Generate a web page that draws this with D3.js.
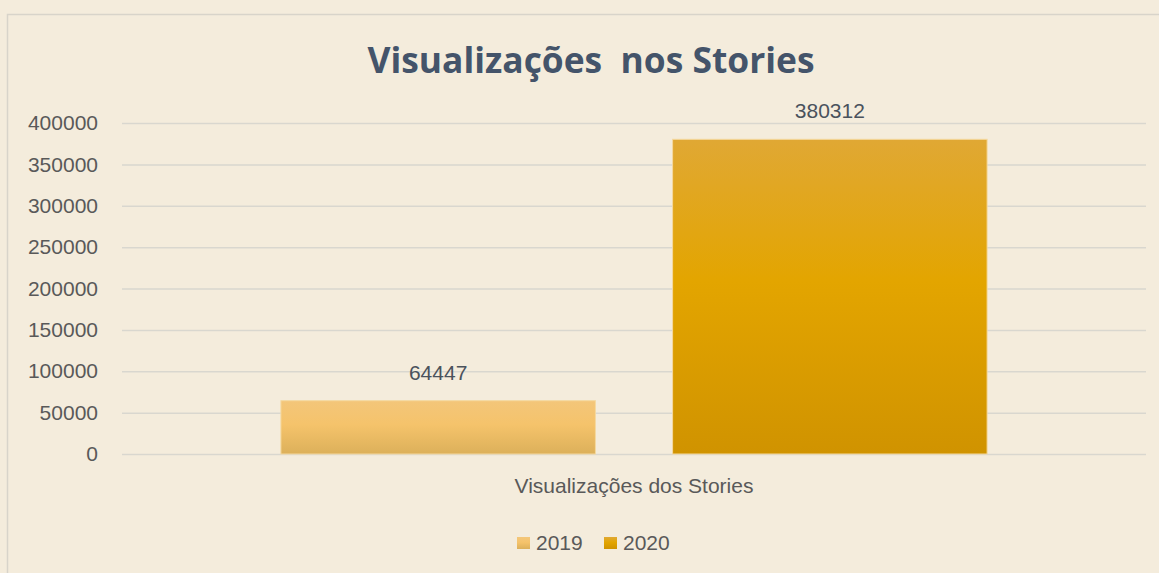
<!DOCTYPE html>
<html>
<head>
<meta charset="utf-8">
<script src="https://cdn.jsdelivr.net/npm/d3@7"></script>
<style>
  html, body { margin: 0; padding: 0; background: #f4ecdc; }
  svg { display: block; }
</style>
</head>
<body>
<svg id="chart"></svg>
<script>
'use strict';

// chart data
const categories = ['Visualizações dos Stories'];
const years = ['2019', '2020'];
const values2019 = [64447];
const values2020 = [380312];
const yTicks = [0, 50000, 100000, 150000, 200000, 250000, 300000, 350000, 400000];

(function() {
  window.addEventListener('load', init);

  /**
  * Build the chart once the window is loaded.
  */
  function init() {
    const width = 1159;
    const height = 573;
    const plot = ({left: 122, right: 1146, top: 123, bottom: 454});
    const font = '"Liberation Sans", Arial, sans-serif';
    const fontSize = 21;

    const svg = d3.select('#chart')
                  .attr('width', width)
                  .attr('height', height);

    // gradients for the two series
    const defs = svg.append('defs');
    const stops = {
      '2019': [['0%', '#f3c67a'], ['45%', '#f5c36b'], ['100%', '#dcb05a']],
      '2020': [['0%', '#e0a834'], ['45%', '#e3a500'], ['100%', '#d09300']]
    };
    years.forEach(yr => {
      const g = defs.append('linearGradient')
                    .attr('id', 'grad' + yr)
                    .attr('x1', 0).attr('y1', 0)
                    .attr('x2', 0).attr('y2', 1);
      stops[yr].forEach(s => g.append('stop').attr('offset', s[0]).attr('stop-color', s[1]));
    });

    // chart frame
    svg.append('rect')
       .attr('x', 7.5).attr('y', 14.5)
       .attr('width', width + 20).attr('height', height + 20)
       .attr('fill', '#f4ecdc')
       .attr('stroke', '#d8d4ca')
       .attr('stroke-width', 1.5);

    const rows = categories.map((c, i) => ({cat: c, '2019': values2019[i], '2020': values2020[i]}));

    const yScale = d3.scaleLinear()
                     .domain([0, 400000])
                     .range([plot.bottom, plot.top]);

    const xScale = d3.scaleBand()
                     .domain(categories)
                     .range([plot.left, plot.right])
                     .paddingInner(0)
                     .paddingOuter(0.225);

    const xInner = d3.scaleBand()
                     .domain(years)
                     .range([0, xScale.bandwidth()])
                     .paddingInner(0.197);

    // gridlines
    svg.append('g')
       .attr('transform', `translate(${plot.left}, 0)`)
       .call(d3.axisLeft(yScale).tickValues(yTicks).tickSize(-(plot.right - plot.left)).tickFormat(''))
       .call(g => g.select('.domain').remove())
       .call(g => g.selectAll('line').attr('stroke', '#d9d7cf').attr('stroke-width', 1.5));

    // y axis labels
    svg.append('g')
       .attr('transform', `translate(${plot.left}, 0)`)
       .call(d3.axisLeft(yScale).tickValues(yTicks).tickSize(0).tickPadding(24).tickFormat(d3.format('d')))
       .call(g => g.select('.domain').remove())
       .call(g => g.selectAll('text')
                   .attr('fill', '#595959')
                   .attr('font-family', font)
                   .attr('font-size', fontSize));

    // bars
    const groups = svg.append('g')
                      .selectAll('g')
                      .data(rows)
                      .enter()
                      .append('g')
                      .attr('transform', d => `translate(${xScale(d.cat)}, 0)`);

    groups.selectAll('rect')
          .data(d => years.map(yr => ({year: yr, value: d[yr]})))
          .enter()
          .append('rect')
          .attr('x', d => xInner(d.year))
          .attr('y', d => yScale(d.value))
          .attr('width', xInner.bandwidth())
          .attr('height', d => yScale(0) - yScale(d.value))
          .attr('fill', d => `url(#grad${d.year})`)
          .attr('stroke', '#f5d9a0')
          .attr('stroke-width', 1);

    // data labels
    groups.selectAll('text')
          .data(d => years.map(yr => ({year: yr, value: d[yr]})))
          .enter()
          .append('text')
          .attr('x', d => xInner(d.year) + xInner.bandwidth() / 2)
          .attr('y', d => yScale(d.value) - 21)
          .attr('text-anchor', 'middle')
          .attr('fill', '#4a525c')
          .attr('font-family', font)
          .attr('font-size', fontSize)
          .text(d => d.value);

    // category label
    svg.append('g')
       .attr('transform', `translate(0, ${plot.bottom})`)
       .call(d3.axisBottom(xScale).tickSize(0).tickPadding(0))
       .call(g => g.select('.domain').remove())
       .call(g => g.selectAll('text')
                   .attr('dy', null)
                   .attr('y', 39)
                   .attr('fill', '#595959')
                   .attr('font-family', font)
                   .attr('font-size', fontSize));

    // title
    svg.append('text')
       .attr('x', 591)
       .attr('y', 73)
       .attr('text-anchor', 'middle')
       .attr('fill', '#44546a')
       .attr('font-family', '"Open Sans", sans-serif')
       .attr('font-weight', 'bold')
       .attr('font-size', 35)
       .attr('textLength', 447)
       .attr('lengthAdjust', 'spacingAndGlyphs')
       .style('white-space', 'pre')
       .text('Visualizações  nos Stories');

    // legend
    const legendX = [517, 604];
    const legend = svg.append('g')
                      .selectAll('g')
                      .data(years)
                      .enter()
                      .append('g')
                      .attr('transform', (d, i) => `translate(${legendX[i]}, 537)`);

    legend.append('rect')
          .attr('width', 13)
          .attr('height', 12)
          .attr('fill', d => `url(#grad${d})`);

    legend.append('text')
          .attr('x', 19)
          .attr('y', 13)
          .attr('fill', '#595959')
          .attr('font-family', font)
          .attr('font-size', fontSize)
          .text(d => d);
  }
})();
</script>
</body>
</html>
